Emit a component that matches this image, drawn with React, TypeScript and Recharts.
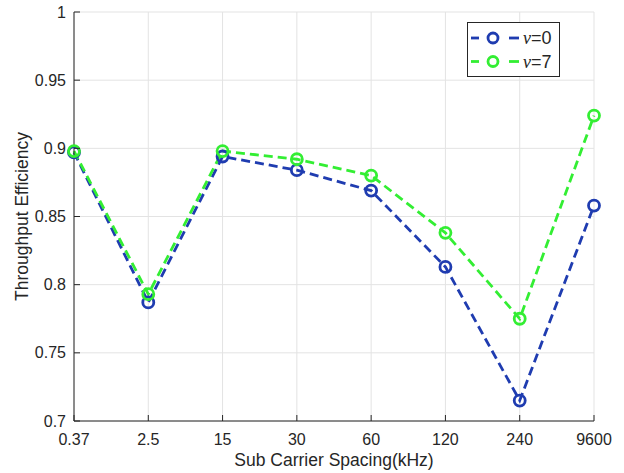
import { LineChart, Line, XAxis, YAxis, CartesianGrid } from "recharts";

const spacings = ["0.37", "2.5", "15", "30", "60", "120", "240", "9600"];
const nu0 = [0.897, 0.787, 0.894, 0.884, 0.869, 0.813, 0.715, 0.858];
const nu7 = [0.898, 0.793, 0.898, 0.892, 0.88, 0.838, 0.775, 0.924];
const yTicks = [0.7, 0.75, 0.8, 0.85, 0.9, 0.95, 1];

const BLUE = "#1f3cb0";
const GREEN = "#33ee33";
const AXIS = "#262626";
const GRID = "#e3e3e3";
const FONT = "'Liberation Sans', Arial, sans-serif";

const data = spacings.map((s, i) => ({ scs: s, nu0: nu0[i], nu7: nu7[i] }));

const X_MARGIN = 10;
const Y_MARGIN = 8;

// MATLAB-style ticks point into the plot area
function XTick(props: any) {
  const { x, y, payload } = props;
  const axisY = y - X_MARGIN;
  return (
    <g>
      <line x1={x} x2={x} y1={axisY} y2={axisY - 6} stroke={AXIS} strokeWidth={1} />
      <text x={x} y={axisY + 24} textAnchor="middle" fontSize={16} fontFamily={FONT} fill={AXIS}>
        {payload.value}
      </text>
    </g>
  );
}

function YTick(props: any) {
  const { x, y, payload } = props;
  const axisX = x + Y_MARGIN;
  return (
    <g>
      <line x1={axisX} x2={axisX + 6} y1={y} y2={y} stroke={AXIS} strokeWidth={1} />
      <text x={x} y={y + 5.5} textAnchor="end" fontSize={16} fontFamily={FONT} fill={AXIS}>
        {String(payload.value)}
      </text>
    </g>
  );
}

const ring = (color: string) => (p: any) => (
  <circle key={p.index} cx={p.cx} cy={p.cy} r={5.5} fill="none" stroke={color} strokeWidth={2.8} />
);

function LegendBox() {
  const rows = [
    { color: BLUE, text: "0" },
    { color: GREEN, text: "7" },
  ];
  return (
    <svg width={93} height={55} style={{ display: "block" }}>
      <rect x={0.5} y={0.5} width={92} height={54} fill="#fff" stroke={AXIS} strokeWidth={1} />
      {rows.map((r, i) => {
        const cy = 16 + i * 23.5;
        return (
          <g key={r.text}>
            <line x1={4} x2={12} y1={cy} y2={cy} stroke={r.color} strokeWidth={2.8} />
            <circle cx={26} cy={cy} r={5} fill="none" stroke={r.color} strokeWidth={2.8} />
            <line x1={42} x2={52} y1={cy} y2={cy} stroke={r.color} strokeWidth={2.8} />
            <text x={56} y={cy + 6} fontSize={18} fontFamily={FONT} fill={AXIS}>
              <tspan fontStyle="italic" fontFamily="'Liberation Serif', serif">ν</tspan>
              <tspan>={r.text}</tspan>
            </text>
          </g>
        );
      })}
    </svg>
  );
}

export default function App() {
  return (
    <div style={{ position: "absolute", left: 0, top: 0, width: 624, height: 473, background: "#fff" }}>
      <LineChart width={624} height={473} data={data} margin={{ top: 12, right: 30, left: 14, bottom: 2 }}>
        <CartesianGrid stroke={GRID} strokeWidth={1} />
        <XAxis
          dataKey="scs"
          height={50}
          tickSize={0}
          tickMargin={X_MARGIN}
          tick={<XTick />}
          stroke={AXIS}
          interval={0}
          label={{
            value: "Sub Carrier Spacing(kHz)",
            position: "insideBottom",
            offset: 5,
            fontSize: 17.5,
            fontFamily: FONT,
            fill: AXIS,
          }}
        />
        <YAxis
          domain={[0.7, 1]}
          ticks={yTicks}
          width={60}
          tickSize={0}
          tickMargin={Y_MARGIN}
          tick={<YTick />}
          stroke={AXIS}
          interval={0}
          label={{
            value: "Throughput Efficiency",
            angle: -90,
            position: "insideLeft",
            offset: 8,
            fontSize: 17.5,
            fontFamily: FONT,
            fill: AXIS,
            style: { textAnchor: "middle" },
          }}
        />
        <Line
          dataKey="nu0"
          name="ν=0"
          stroke={BLUE}
          strokeWidth={2.8}
          strokeDasharray="9 5"
          dot={ring(BLUE)}
          isAnimationActive={false}
        />
        <Line
          dataKey="nu7"
          name="ν=7"
          stroke={GREEN}
          strokeWidth={2.8}
          strokeDasharray="9 5"
          dot={ring(GREEN)}
          isAnimationActive={false}
        />
      </LineChart>
      <div style={{ position: "absolute", left: 467, top: 22 }}>
        <LegendBox />
      </div>
    </div>
  );
}
